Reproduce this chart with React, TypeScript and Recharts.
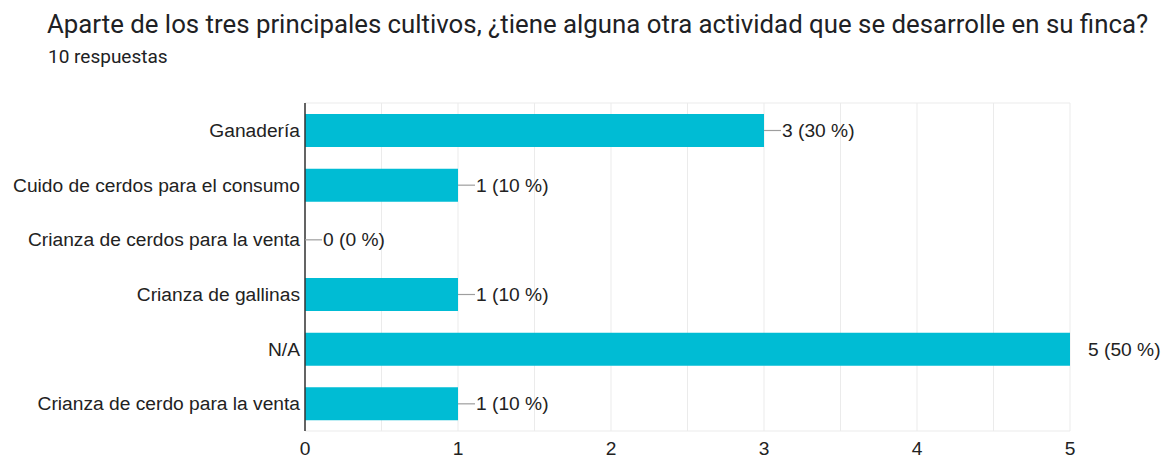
import { Bar, BarChart, CartesianGrid, LabelList, XAxis, YAxis } from 'recharts'

const activities = [
  'Ganadería',
  'Cuido de cerdos para el consumo',
  'Crianza de cerdos para la venta',
  'Crianza de gallinas',
  'N/A',
  'Crianza de cerdo para la venta',
]
const counts = [3, 1, 0, 1, 5, 1]
const totalResponses = 10
const xTicks = [0, 0.5, 1, 1.5, 2, 2.5, 3, 3.5, 4, 4.5, 5]
const xMax = 5

const title = 'Aparte de los tres principales cultivos, ¿tiene alguna otra actividad que se desarrolle en su finca?'
const subtitle = `${totalResponses} respuestas`

const data = activities.map((name, i) => ({
  name,
  count: counts[i],
  label: `${counts[i]} (${Math.round((counts[i] / totalResponses) * 100)} %)`,
}))

const axisFont = { fontFamily: '"Liberation Sans", Arial, sans-serif', fontSize: 19.2, fill: '#222' }

function ValueLabel(props: any) {
  const { x, y, width, height, value } = props
  const end = Number(x) + Number(width)
  const cy = Number(y) + Number(height) / 2
  const count = Number(String(value).split(' ')[0])
  return (
    <g>
      {count < xMax && <line x1={end} x2={end + 17} y1={cy} y2={cy} stroke="#9e9e9e" strokeWidth={1.2} />}
      <text x={end + 18} y={cy} dominantBaseline="central" {...axisFont}>
        {value}
      </text>
    </g>
  )
}

export default function App() {
  return (
    <div style={{ position: 'absolute', left: 0, top: 0, width: 1164, height: 460, background: '#fff' }}>
      <div
        style={{
          position: 'absolute',
          left: 47,
          top: 11,
          fontFamily: 'Roboto, sans-serif',
          fontSize: 25.8,
          lineHeight: '26px',
          color: '#202124',
          whiteSpace: 'nowrap',
        }}
      >
        {title}
      </div>
      <div
        style={{
          position: 'absolute',
          left: 48,
          top: 47,
          fontFamily: 'Roboto, sans-serif',
          fontSize: 19,
          lineHeight: '19px',
          color: '#202124',
          whiteSpace: 'nowrap',
        }}
      >
        {subtitle}
      </div>
      <div style={{ position: 'absolute', left: 0, top: 0 }}>
        <BarChart
          width={1164}
          height={460}
          data={data}
          layout="vertical"
          margin={{ top: 103, right: 94, bottom: 0, left: 0 }}
        >
          <CartesianGrid
            stroke="#ebebeb"
            horizontalCoordinatesGenerator={({ offset }: any) => [offset.top, offset.top + offset.height]}
          />
          <Bar dataKey="count" fill="#00bcd4" barSize={33} minPointSize={0.01} isAnimationActive={false}>
            <LabelList dataKey="label" content={<ValueLabel />} />
          </Bar>
          <XAxis
            type="number"
            domain={[0, xMax]}
            ticks={xTicks}
            interval={0}
            tickFormatter={(v) => (Number.isInteger(v) ? String(v) : '')}
            axisLine={false}
            tickLine={false}
            tickMargin={4}
            height={29}
            tick={axisFont}
          />
          <YAxis
            type="category"
            dataKey="name"
            width={305}
            tickLine={false}
            tickSize={0}
            tickMargin={5}
            axisLine={{ stroke: '#333', strokeWidth: 1.5 }}
            tick={axisFont}
            interval={0}
          />
        </BarChart>
      </div>
    </div>
  )
}
